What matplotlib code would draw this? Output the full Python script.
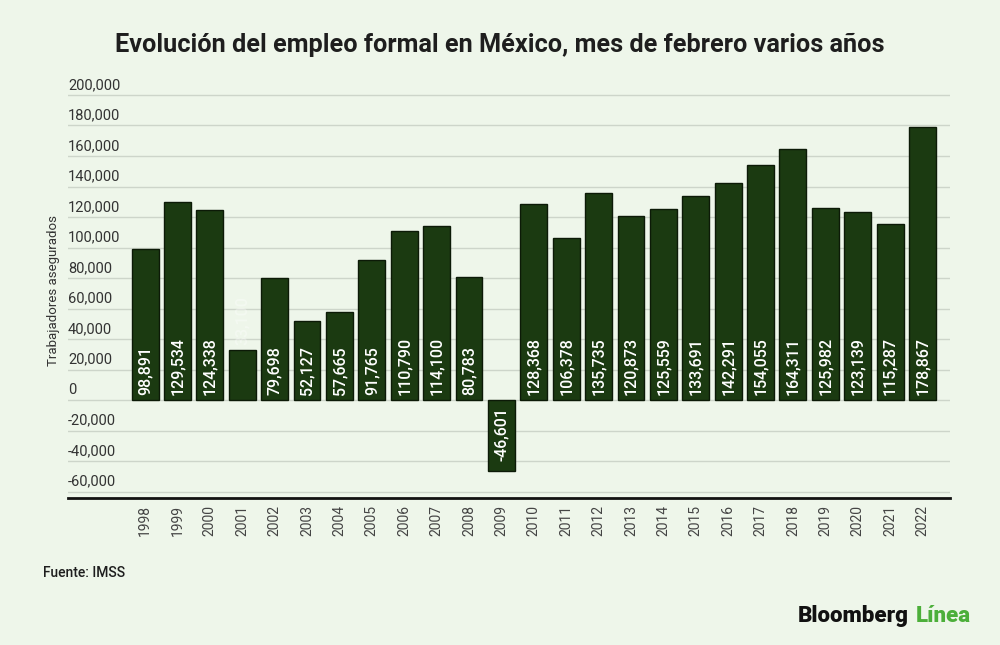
import matplotlib
matplotlib.use("Agg")
import matplotlib.pyplot as plt
import matplotlib.transforms as mtransforms

plt.rcParams["font.family"] = ["Roboto", "DejaVu Sans"]

# Datos: empleo formal (febrero de cada año), IMSS
years = [str(y) for y in range(1998, 2023)]
values = [98891, 129534, 124338, 33100, 79698, 52127, 57665, 91765, 110790,
          114100, 80783, -46601, 128368, 106378, 135735, 120873, 125559,
          133691, 142291, 154055, 164311, 125982, 123139, 115287, 178867]
yticks = [-60000, -40000, -20000, 0, 20000, 40000, 60000, 80000, 100000,
          120000, 140000, 160000, 180000, 200000]

BG = "#eef6ea"
BAR = "#1b3a11"

fig = plt.figure(figsize=(10, 6.45), dpi=100, facecolor=BG)
ax = fig.add_axes([0.068, 0.2284, 0.882, 0.648])
ax.set_facecolor(BG)

x = list(range(len(years)))
ax.bar(x, values, width=0.83, color=BAR, edgecolor="#0c1a07", linewidth=1, zorder=3)

ax.set_xlim(-2.38, 24.85)
ax.set_ylim(-64000, 210000)

# grid + y labels sitting on top of the gridlines
ax.set_yticks(yticks)
ax.grid(axis="y", color="#cdd5ca", linewidth=1, zorder=0)
ax.tick_params(axis="y", left=False, labelleft=False)
ytrans = ax.get_yaxis_transform()
lab_off = mtransforms.offset_copy(ytrans, fig=fig, x=0, y=3, units="dots")
for t in yticks:
    ax.text(0, t, f"{t:,}", transform=lab_off, ha="left", va="bottom",
            fontsize=10.5, color="#333333")

ax.set_xticks(x)
ax.set_xticklabels(years, rotation=90, fontsize=10, color="#444444")
ax.tick_params(axis="x", length=0, pad=5)

for s in ["top", "right", "left"]:
    ax.spines[s].set_visible(False)
ax.spines["bottom"].set_color("#111111")
ax.spines["bottom"].set_linewidth(2)

# value labels at the base of each bar
up = mtransforms.offset_copy(ax.transData, fig=fig, x=0, y=5, units="dots")
down = mtransforms.offset_copy(ax.transData, fig=fig, x=0, y=-7, units="dots")
for xi, v in zip(x, values):
    txt = f"{v:,}"
    if v < 0:
        ax.text(xi, 0, txt, transform=down, rotation=90, ha="center", va="top",
                fontsize=11.5, fontweight="medium", color="white", zorder=4)
    elif v < 40000:
        # label falls outside the short bar, white on light background
        ax.text(xi, v, txt, transform=up, rotation=90, ha="center", va="bottom",
                fontsize=11.5, fontweight="medium", color="white", alpha=0.35, zorder=4)
    else:
        ax.text(xi, 0, txt, transform=up, rotation=90, ha="center", va="bottom",
                fontsize=11.5, fontweight="medium", color="white", zorder=4)

fig.text(0.054, 0.55, "Trabajadores asegurados", rotation=90, ha="center",
         va="center", fontsize=9.5, color="#333333")

fig.text(0.5, 0.93, "Evolución del empleo formal en México, mes de febrero varios años",
         ha="center", va="center", fontsize=18.2, fontweight="bold", color="#1e1e1e")

fig.text(0.043, 0.112, "Fuente: IMSS", ha="left", va="center", fontsize=10,
         fontweight="medium", color="#1e1e1e")

# logo: "Línea" placed right after "Bloomberg"
logo = fig.text(0.798, 0.045, "Bloomberg", ha="left", va="center", fontsize=16,
                fontweight="heavy", color="#111111")
fig.canvas.draw()
bb = logo.get_window_extent(renderer=fig.canvas.get_renderer())
fig.text((bb.x1 + 7) / fig.bbox.width, 0.045, "Línea", ha="left", va="center",
         fontsize=16, fontweight="heavy", color="#4caf3a")

fig.savefig("out.png", dpi=100, facecolor=BG)
